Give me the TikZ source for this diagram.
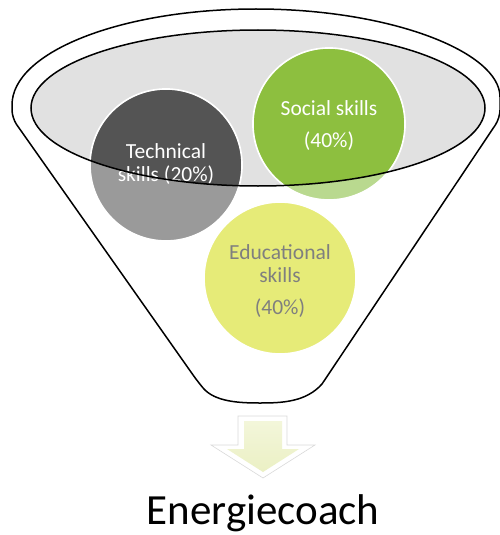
\documentclass[tikz,border=0pt]{standalone}
\usepackage{fontspec}
\setmainfont{Carlito}
\usetikzlibrary{calc}
\definecolor{techdark}{HTML}{545454}
\definecolor{techlight}{HTML}{9A9A9A}
\definecolor{socialdark}{HTML}{8DBF3F}
\definecolor{sociallight}{HTML}{B9D98F}
\definecolor{eduyellow}{HTML}{E6EB78}
\definecolor{edugray}{HTML}{7F7F7F}
\definecolor{funnelgray}{HTML}{E1E1E1}
\definecolor{arrowtop}{HTML}{F3F6DA}
\definecolor{arrowbot}{HTML}{EBF0C4}
\def\mouth{(258,108) ellipse [x radius=227, y radius=78]}
\tikzset{
  skill/.style={circle, draw=white, line width=1.7pt, minimum size=152pt, inner sep=0pt},
  skilltext/.style={align=center, font=\fontsize{21.5}{23}\selectfont, text=white}
}

\begin{document}
\begin{tikzpicture}[x=1pt, y=-1pt]
			%%%%% START %%%%%
			\useasboundingbox (0,0) rectangle (500,535);
			
			\draw[line width=1.5pt] (12,105) [rounded corners=8] -- (12,118) -- (198,382) [sharp corners]
				.. controls (215,402) and (240,403) .. (260,403)
				.. controls (282,403) and (306,402) .. (322,384) [rounded corners=8]
				-- (500,118) -- (500,105) [sharp corners]
				arc[start angle=0, end angle=-180, x radius=244, y radius=96];
			\fill[funnelgray] \mouth;
			
			\node[skill, fill=techlight] (tech) at (166,165) {};
			\node[skill, fill=sociallight] (social) at (329,124) {};
			\node[skill, fill=eduyellow] (edu) at (280,278) {};
			\begin{scope}
				\clip \mouth;
				\fill[techdark] (tech) circle (75);
				\fill[socialdark] (social) circle (75);
			\end{scope}
			
			\node[skilltext] (techtext) at ($(tech)+(0,-1)$) {Technical\\skills (20\%)};
			\node[skilltext] (socialtext) at ($(social)+(0,2)$) {Social skills\\[9pt](40\%)};
			\node[skilltext, text=edugray] (edutext) at ($(edu)+(0,3)$) {Educational\\skills\\[9pt](40\%)};
			
			\draw[line width=1.5pt] \mouth;
			
			\draw[gray!30, line width=0.6pt, fill=white] (238,416) -- (287,416) -- (287,445) -- (315,445) -- (263,478) -- (211,445) -- (238,445) -- cycle;
			\shade[top color=arrowtop, bottom color=arrowbot] (244,421) -- (282,421) -- (282,449) -- (299,449) -- (263,472) -- (227,449) -- (244,449) -- cycle;
			
			\node[font=\fontsize{43}{48}\selectfont, anchor=base] (coach) at (263,524) {Energiecoach};
			%%%%% END %%%%%
\end{tikzpicture}
\end{document}
